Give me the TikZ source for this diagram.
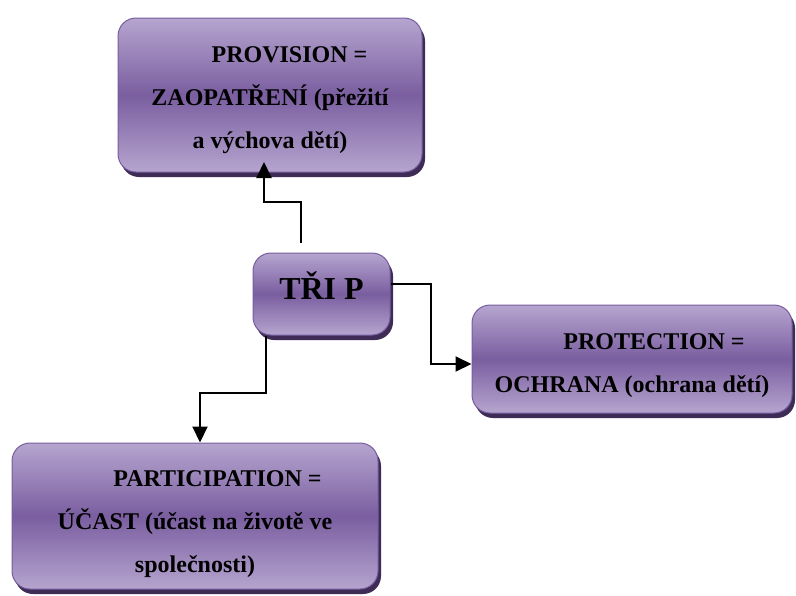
\documentclass[tikz,border=0pt]{standalone}
\usepackage{fontspec}
\setmainfont{Liberation Serif}
\usetikzlibrary{arrows.meta,shadows}
\definecolor{plight}{RGB}{182,165,207}
\definecolor{pdark}{RGB}{122,94,160}
\definecolor{pborder}{RGB}{118,93,158}
\definecolor{pshadow}{RGB}{62,44,86}
\begin{document}
\begin{tikzpicture}[x=1pt,y=-1pt,
  box/.style={rectangle, rounded corners=18pt, draw=pborder, line width=1pt,
    top color=plight, bottom color=plight, middle color=pdark,
    drop shadow={shadow xshift=3pt, shadow yshift=-5pt, fill=pshadow, opacity=1},
    align=center, inner sep=0pt, font=\fontsize{24}{43}\selectfont\bfseries},
  conn/.style={line width=2pt, -{Triangle[length=16pt,width=15pt]}}]
\useasboundingbox (0,0) rectangle (796,595);
\node[box, minimum width=304pt, minimum height=154pt] (prov) at (270,95)
  {\rule{0pt}{26pt}\hspace*{39pt}PROVISION =\\ZAOPATŘENÍ (přežití\\a výchova dětí)};
\node[box, minimum width=137pt, minimum height=82pt,
  font=\fontsize{32}{38}\selectfont\bfseries] (tri) at (321.5,294)
  {\rule[-16pt]{0pt}{16pt}TŘI P};
\node[box, minimum width=320pt, minimum height=108pt] (prot) at (632,359)
  {\rule{0pt}{30pt}\hspace*{44pt}PROTECTION =\\OCHRANA (ochrana dětí)};
\node[box, minimum width=366pt, minimum height=146pt] (part) at (195,516)
  {\rule{0pt}{32pt}\hspace*{45pt}PARTICIPATION =\\ÚČAST (účast na životě ve\\společnosti)};
\coordinate (s1) at (301,243);
\coordinate (t1) at (264,162);
\draw[conn] (s1) -- ++(0,-41) -| (t1);
\draw[conn] ([yshift=10pt]tri.east) -- ++(40,0) |- ([yshift=-5pt]prot.west);
\draw[conn] ([xshift=-56pt]tri.south) -- ++(0,57) -| ([xshift=5pt]part.north);
\end{tikzpicture}
\end{document}
